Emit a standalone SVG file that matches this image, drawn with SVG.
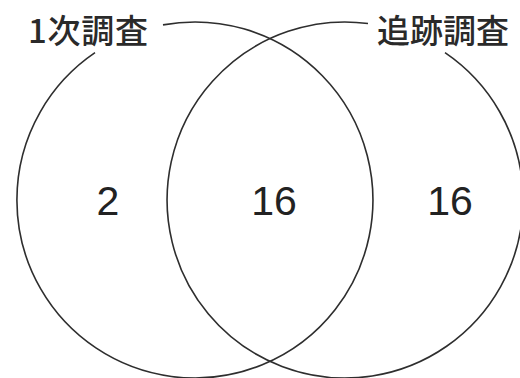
<svg xmlns="http://www.w3.org/2000/svg" width="520" height="378" viewBox="0 0 520 378">
<style>
.c{fill:none;stroke:#2e2e2e;stroke-width:1.6}
.lbl{font-family:"Noto Sans CJK JP","Noto Sans CJK SC",sans-serif;font-size:33px;fill:#2a2a2a;font-weight:500}
.num{font-family:"Liberation Sans",Arial,sans-serif;font-size:41px;fill:#222;text-anchor:middle}
</style>
<rect width="520" height="378" fill="#fff"/>
<g id="set1">
<path class="c" d="M163,24.9 A178,178 0 1 1 95,52.7"/>
<text class="lbl" x="28" y="43" textLength="120">1次調査</text>
<text class="num" x="108" y="215">2</text>
</g>
<g id="set2">
<path class="c" d="M445,52.7 A178,178 0 1 1 368,23.5"/>
<text class="lbl" x="377" y="43">追跡調査</text>
<text class="num" x="450" y="215">16</text>
</g>
<g id="overlap">
<text class="num" x="274" y="215">16</text>
</g>
<g id="connectors"></g>
</svg>
